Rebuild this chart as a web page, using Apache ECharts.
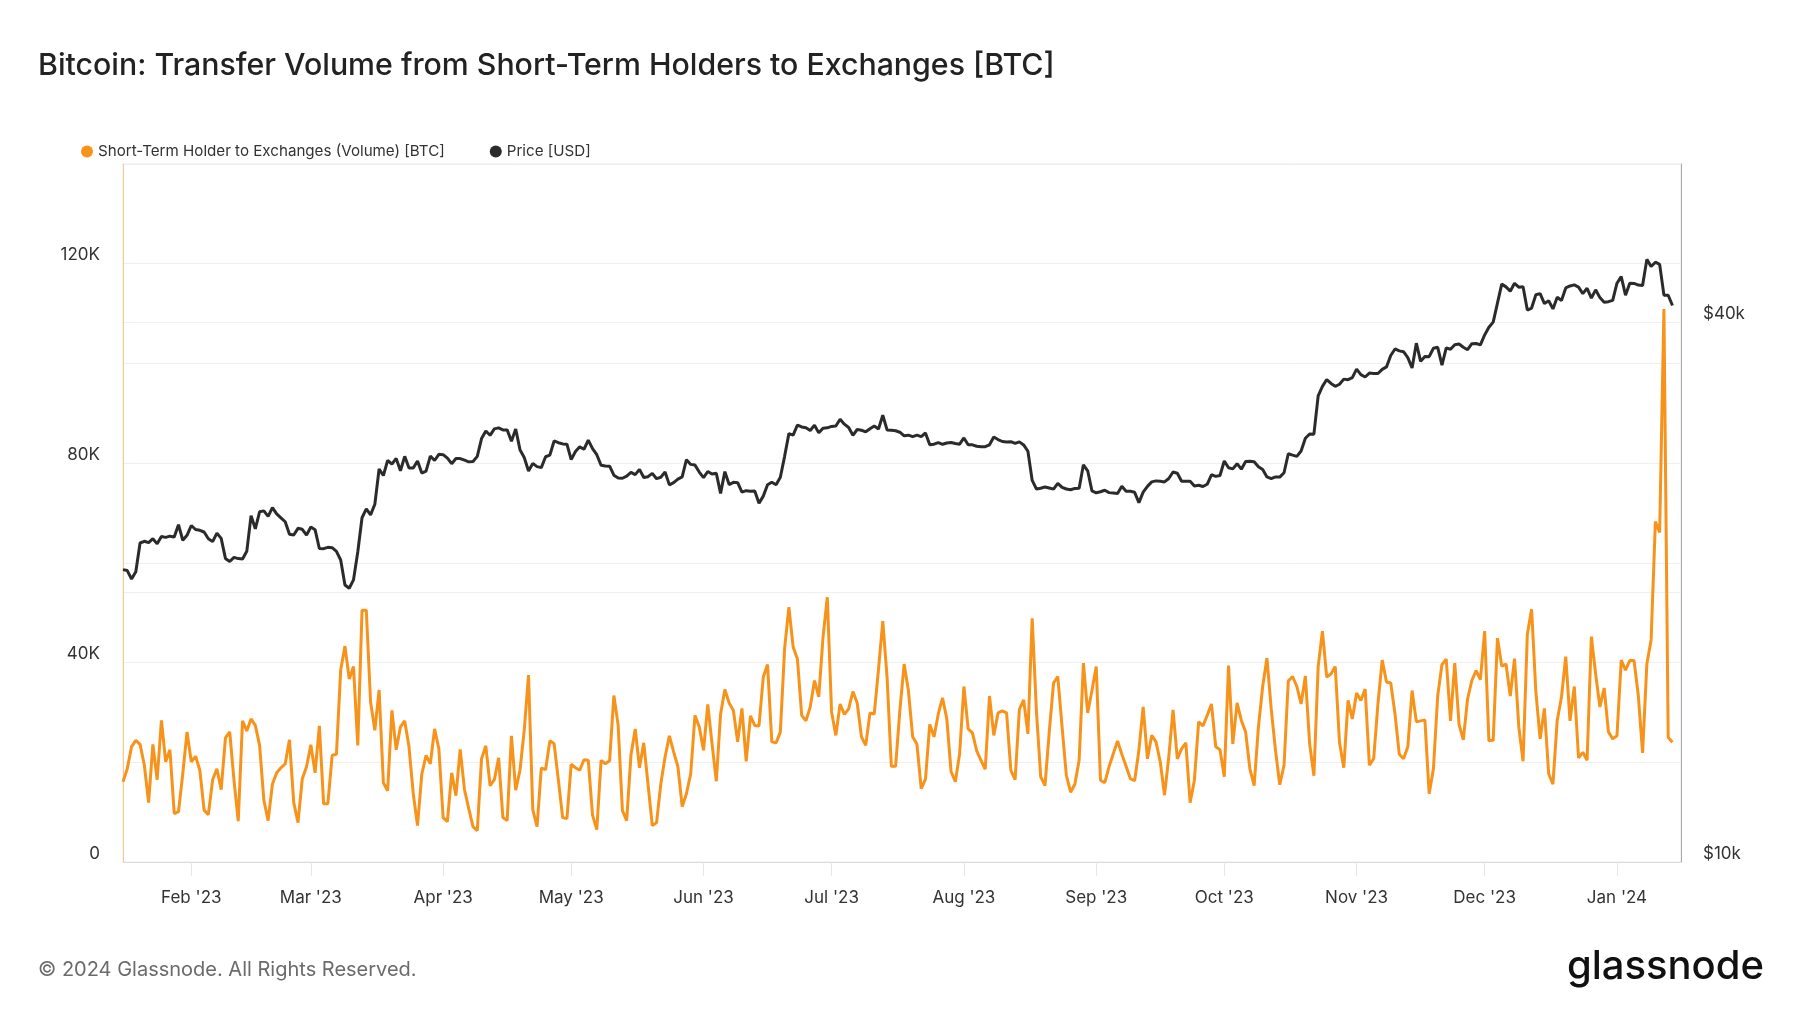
<!DOCTYPE html>
<html>
<head>
<meta charset="utf-8">
<script src="https://cdn.jsdelivr.net/npm/echarts@6/dist/echarts.min.js"></script>
<style>
html,body{margin:0;padding:0;background:#fff;}
#chart{width:1800px;height:1013px;}
</style>
</head>
<body>
<div id="chart"></div>
<script>
// ---------- DATA ----------
const startDate = '2023-01-16';   // first daily observation
const endAxisDate = '2024-01-16'; // right end of the time axis
const monthNames = ['Jan','Feb','Mar','Apr','May','Jun','Jul','Aug','Sep','Oct','Nov','Dec'];
const leftTickLabels = ['0','40K','80K','120K'];
const rightTickLabels = ['$10k','$40k'];

// Short-Term Holder to Exchanges (Volume) [BTC], daily
const sthVolume = [
16100,18700,23100,24400,23600,19400,11900,23600,16500,28400,
20100,22500,9700,10100,17700,26100,20100,21200,18400,10400,
9500,16500,18700,14500,24900,26100,16400,8200,28300,26300,
28700,27400,23400,12400,8300,15600,17900,18900,19700,24500,
11900,7900,16700,19100,23500,17900,27300,11700,11700,21400,
21600,38500,43300,36700,39200,23400,50500,50500,32100,26400,
34500,15900,14300,30400,22500,27100,28300,23100,13700,7300,
17600,21400,19700,26700,22700,8900,8100,17900,13300,22600,
14500,10700,7100,6300,20700,23300,15300,16500,20900,8900,
8300,25300,14400,18400,26400,37500,10500,7100,18900,18500,
24300,23700,16400,8900,8700,19600,18900,18400,20500,20400,
9400,6500,20400,19700,20300,33400,27400,10300,8300,21400,
26700,18900,23900,15600,7300,7900,15700,21100,25300,22100,
19100,11100,13700,17700,29400,27100,22400,31600,23700,16200,
29700,34600,31900,30400,24100,30800,20200,29300,27400,27300,
37100,39600,24100,23900,26100,42800,51100,43100,40700,29400,
28300,31100,36400,33100,45100,53100,30100,25400,31700,29600,
30700,34200,31900,25100,23400,29900,29700,38700,48300,37100,
19200,19200,30400,39700,34400,25100,23600,14700,16600,27600,
25100,29700,32900,28700,18100,16100,21700,35200,26700,25900,
22300,20400,18600,33300,25400,29900,30300,29900,18400,16500,
30600,32500,25700,48900,30100,17100,15300,26100,35900,37200,
27100,17400,14000,15600,20400,39900,29900,34400,39200,16400,
15900,19100,21700,24300,21600,19200,16700,16300,22400,31100,
20700,25400,24100,20100,13400,21100,30500,20700,22700,23900,
11900,16400,28100,27300,29400,31700,23100,22500,17100,39400,
23700,31900,28400,26100,18700,15300,27100,35200,40900,30700,
22400,15500,19400,36300,37200,35200,31700,37300,23700,17300,
39200,46300,37100,37700,39200,23900,18900,32400,28700,33900,
32400,34700,19400,20700,31700,40500,36100,35900,29700,21600,
20700,23100,34400,28100,28300,28500,13700,18700,33300,39600,
40700,28300,39900,27600,24500,32700,36400,38400,36600,46300,
24300,24400,44900,39300,39700,33300,40800,27100,20200,45700,
50700,34100,24700,30800,17700,15600,28400,33100,41200,28300,
35200,20900,22000,20400,45200,37700,31100,34900,26100,24700,
25300,40500,38500,40400,40400,33400,21900,39700,44600,68300,
66100,110900,25000,24000
];

// Price [USD], daily
const priceUsd = [
// Jan 16-31 2023
21180,21130,20680,21070,22680,22780,22700,22930,22630,23060,23010,23080,23030,23770,22840,23130,
// Feb
23720,23480,23430,23330,22930,22760,23260,22950,21800,21630,21860,21790,21770,22200,24320,23520,
24570,24630,24280,24830,24440,24190,23950,23190,23150,23550,23490,23140,
// Mar
23630,23470,22360,22350,22430,22410,22200,21710,20360,20190,20630,22160,24200,24750,24380,25050,
27420,26970,28040,27770,28180,27300,28330,27490,27490,28000,27140,27270,28350,28030,28480,
// Apr
28450,28200,27800,28170,28170,28050,27930,27960,28330,29650,30240,29900,30400,30480,30320,30320,
29450,30390,28820,28250,27280,27820,27590,27520,28300,28420,29470,29340,29250,29230,
// May
28090,28680,29030,28850,29530,28900,28450,27690,27630,27620,26990,26800,26780,26930,27190,27030,
27400,26830,26890,27120,26750,26850,27220,26330,26480,26720,26870,28090,27750,27700,27210,
// Jun
26820,27250,27070,27120,25760,27240,26350,26500,26480,25840,25940,25900,25920,25120,25580,26340,
26510,26340,26850,28330,30030,29910,30700,30550,30480,30270,30690,30090,30450,30480,
// Jul
30590,30620,31160,30770,30510,29900,30350,30290,30170,30410,30620,30390,31480,30320,30290,30250,
30140,29860,29910,29800,29910,29800,30080,29180,29230,29350,29220,29320,29350,29280,29230,
// Aug
29700,29180,29180,29070,29040,29040,29180,29770,29580,29430,29400,29420,29290,29400,29170,28700,
26630,26050,26100,26190,26120,26040,26430,26160,26050,26000,26090,26100,27720,27300,25930,
// Sep
25800,25870,25970,25810,25780,25750,26240,25900,25900,25830,25160,25840,26230,26530,26600,26570,
26530,26760,27210,27130,26570,26580,26580,26260,26300,26220,26370,27020,26910,26970,
// Oct
27990,27510,27430,27800,27410,27950,27970,27940,27590,27390,26870,26760,26870,26860,27160,28520,
28420,28330,28720,29680,30000,29990,33090,33900,34500,34160,33910,34090,34540,34490,34670,
// Nov
35440,34940,34730,35080,35050,35040,35420,35640,36700,37320,37140,37060,36500,35540,37880,36150,
36600,36590,37390,37480,35810,37420,37290,37720,37800,37480,37250,37830,37850,37720,
// Dec
38690,39460,39980,41980,44080,43770,43290,44170,43730,43790,41240,41450,42890,43020,41930,42240,
41360,42620,42270,43650,43870,43990,43740,43020,43610,42520,43440,42580,42070,42140,42280,
// Jan 1-14 2024
44180,44940,42850,44180,44160,43970,43930,46970,46120,46630,46370,42850,42840,41730
];

// ---------- BUILD ----------
const DAY = 86400000;
const t0 = Date.parse(startDate + 'T00:00:00Z');
const dates = sthVolume.map((_, i) => t0 + i * DAY);
const volData = dates.map((d, i) => [d, sthVolume[i]]);
const priceData = dates.map((d, i) => [d, priceUsd[i]]);

const FONT = 'Inter, "Noto Sans", Roboto, sans-serif';
const ORANGE = '#f7931a';
const DARK = '#2b2b2b';

const chart = echarts.init(document.getElementById('chart'), null, {renderer: 'canvas'});

const option = {
  animation: false,
  backgroundColor: '#ffffff',
  textStyle: {fontFamily: FONT},
  title: {
    text: 'Bitcoin: Transfer Volume from Short-Term Holders to Exchanges [BTC]',
    left: 33, top: 46,
    textStyle: {fontFamily: FONT, fontSize: 30.3, fontWeight: 500, color: '#222'}
  },
  legend: {
    left: 76, top: 139,
    icon: 'circle', itemWidth: 12, itemHeight: 12, itemGap: 45,
    textStyle: {fontFamily: FONT, fontSize: 15.15, color: '#333'},
    data: ['Short-Term Holder to Exchanges (Volume) [BTC]', 'Price [USD]']
  },
  grid: {
    left: 123, right: 119, top: 164, bottom: 151,
    show: true, borderColor: '#e8e8e8', borderWidth: 1
  },
  xAxis: {
    type: 'time',
    min: t0,
    max: Date.parse(endAxisDate + 'T00:00:00Z'),
    splitNumber: 12,
    minInterval: 28 * DAY,
    maxInterval: 31 * DAY,
    axisLine: {show: true, lineStyle: {color: '#dcdcdc', width: 1}},
    axisTick: {show: true, length: 14, lineStyle: {color: '#e6e6e6'}},
    splitLine: {show: false},
    axisLabel: {
      showMinLabel: false, showMaxLabel: false,
      margin: 27, fontFamily: FONT, fontSize: 17, color: '#333',
      formatter: function (v) {
        const d = new Date(v);
        if (d.getUTCDate() !== 1) return '';
        return monthNames[d.getUTCMonth()] + " '" + String(d.getUTCFullYear()).slice(2);
      }
    }
  },
  yAxis: [
    {
      type: 'value', position: 'left',
      min: 0, max: 140000, interval: 20000,
      axisLine: {show: true, lineStyle: {color: '#f9c88c', width: 1}},
      axisTick: {show: false},
      splitLine: {show: true, lineStyle: {color: '#efefef', width: 1}},
      axisLabel: {
        margin: 23, fontFamily: FONT, fontSize: 17, color: '#333', verticalAlign: 'bottom',
        formatter: function (v) {
          if (v % 40000 !== 0 || v >= 140000) return '';
          return leftTickLabels[v / 40000];
        }
      }
    },
    {
      type: 'log', logBase: 10, position: 'right',
      min: 10000, max: 60000, interval: Math.log10(2),
      axisLine: {show: true, lineStyle: {color: '#a8a8a8', width: 1}},
      axisTick: {show: false},
      splitLine: {show: true, lineStyle: {color: '#efefef', width: 1}},
      axisLabel: {
        margin: 22, fontFamily: FONT, fontSize: 17, color: '#333', verticalAlign: 'bottom',
        formatter: function (v) {
          const r = Math.round(v / 1000);
          if (r === 10) return rightTickLabels[0];
          if (r === 40) return rightTickLabels[1];
          return '';
        }
      }
    }
  ],
  series: [
    {
      name: 'Short-Term Holder to Exchanges (Volume) [BTC]',
      type: 'line', yAxisIndex: 0, data: volData,
      showSymbol: false, symbol: 'none', smooth: false,
      itemStyle: {color: ORANGE},
      lineStyle: {color: ORANGE, width: 3},
      z: 3
    },
    {
      name: 'Price [USD]',
      type: 'line', yAxisIndex: 1, data: priceData,
      showSymbol: false, symbol: 'none', smooth: false,
      itemStyle: {color: DARK},
      lineStyle: {color: DARK, width: 3},
      z: 4
    }
  ],
  graphic: [
    {
      type: 'text', left: 38, top: 960,
      style: {text: '\u00a9 2024 Glassnode. All Rights Reserved.', fontFamily: FONT, fontSize: 20, fill: '#6b6b6b'}
    },
    {
      type: 'text', right: 36, top: 947,
      style: {text: 'glassnode', fontFamily: FONT, fontSize: 40, fontWeight: 500, fill: '#111'}
    }
  ]
};

chart.setOption(option);

// Fallback: if the log axis ignored the interval, add the 20k/40k guide lines as marks on the log scale
let logOk = false;
try {
  const sc = chart.getModel().getComponent('yAxis', 1).axis.scale;
  logOk = sc.getTicks().some(t => Math.abs(t.value - 40000) < 300);
} catch (e) { logOk = false; }
if (!logOk) {
  chart.setOption({
    series: [{}, {
      markLine: {
        silent: true, symbol: 'none', z: 1, animation: false,
        lineStyle: {color: '#efefef', width: 1, type: 'solid'},
        data: [
          {yAxis: 20000, label: {show: false}},
          {yAxis: 40000, label: {show: true, position: 'end', distance: [22, 0], formatter: rightTickLabels[1],
            fontFamily: FONT, fontSize: 17, color: '#333', verticalAlign: 'bottom', align: 'left'}}
        ]
      }
    }]
  });
}
</script>
</body>
</html>
